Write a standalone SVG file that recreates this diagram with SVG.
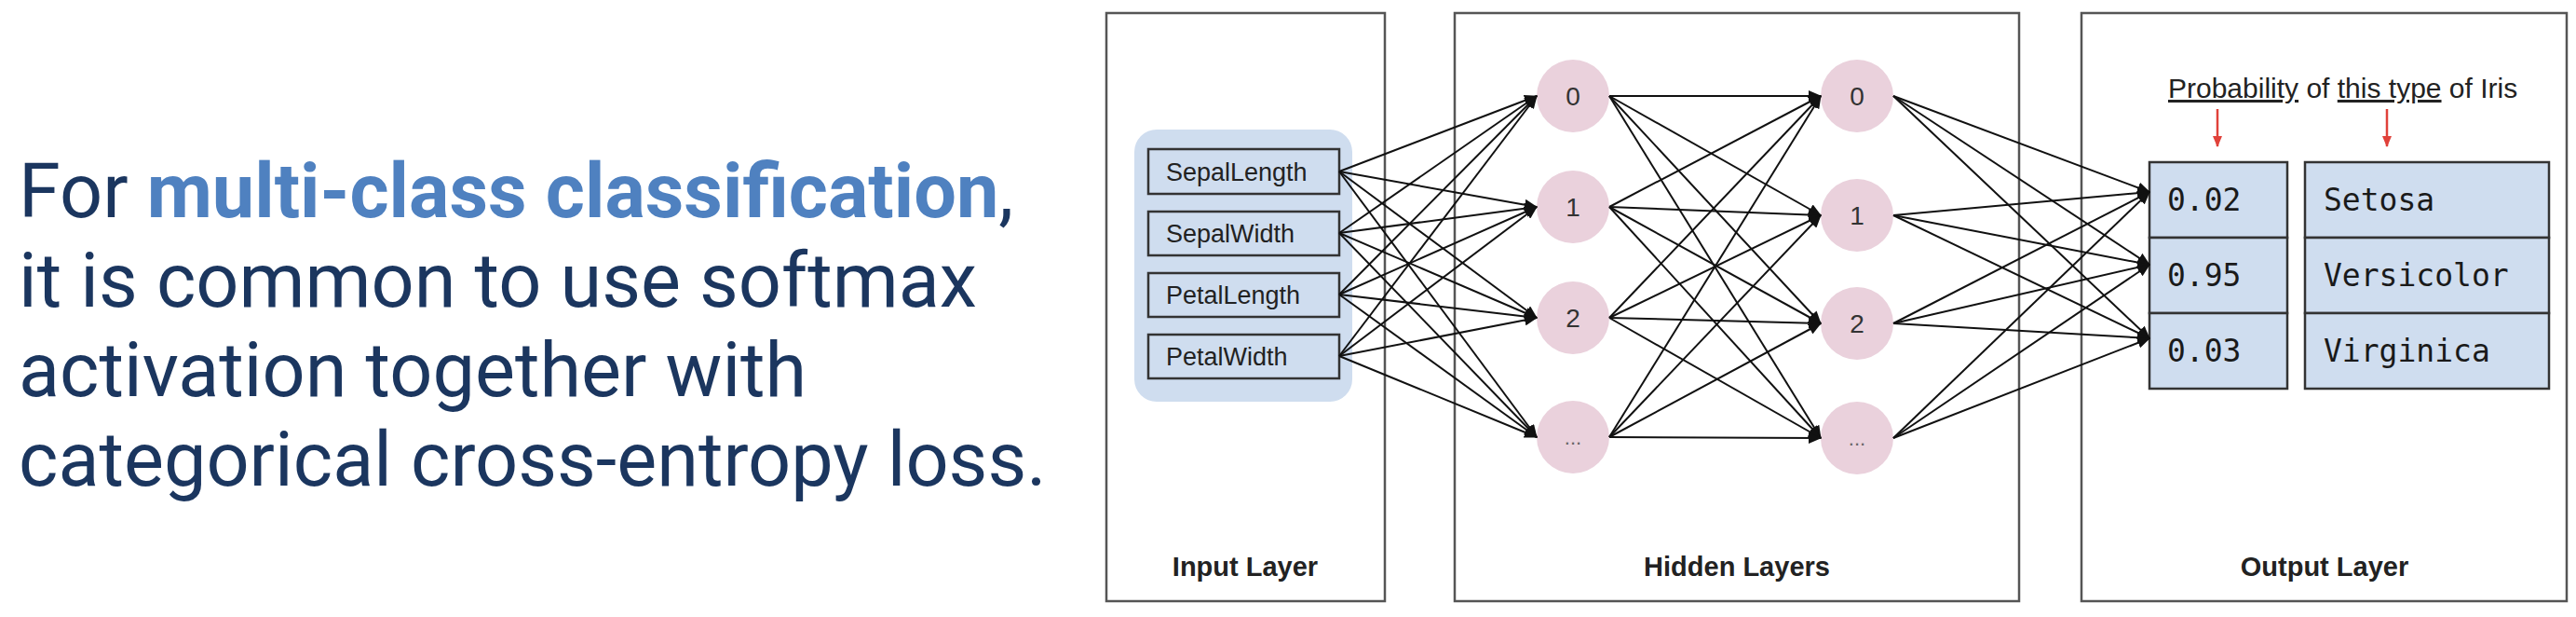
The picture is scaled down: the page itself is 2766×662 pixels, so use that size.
<svg xmlns="http://www.w3.org/2000/svg" width="2766" height="662" viewBox="0 0 2766 662">
<style>
.lead{font-family:Roboto,"Liberation Sans",sans-serif;font-size:81px;fill:#1b365f}
.hl{fill:#4f81c0;font-weight:bold}
.layer{fill:#fff;stroke:#555;stroke-width:2.5}
.lname{font-family:"Liberation Sans",Arial,sans-serif;font-size:29px;font-weight:bold;fill:#222;text-anchor:middle}
.feat{fill:#cfddef;stroke:#333;stroke-width:2.5}
.ftxt{font-family:"Liberation Sans",Arial,sans-serif;font-size:27px;fill:#222}
.neuron{fill:#ead1dc}
.ntxt{font-family:"Liberation Sans",Arial,sans-serif;font-size:28px;fill:#333;text-anchor:middle}
.dots{font-family:"Liberation Sans",Arial,sans-serif;font-size:22px;fill:#666;text-anchor:middle}
.cell{fill:#cfddef;stroke:#333;stroke-width:2.5}
.mono{font-family:"DejaVu Sans Mono","Liberation Mono",monospace;font-size:33px;fill:#1a1a1a}
.prob{font-family:"Liberation Sans",Arial,sans-serif;font-size:30px;fill:#222}
.conn line{stroke:#111;stroke-width:2;marker-end:url(#ah)}
.red{stroke:#e0413a;stroke-width:2.5;marker-end:url(#rh)}
</style>
<defs>
<marker id="ah" markerUnits="userSpaceOnUse" markerWidth="14" markerHeight="12" refX="13" refY="6" orient="auto">
<path d="M0,0 L14,6 L0,12 z" fill="#111"/>
</marker>
<marker id="rh" markerUnits="userSpaceOnUse" markerWidth="12" markerHeight="10" refX="11" refY="5" orient="auto">
<path d="M0,0 L12,5 L0,10 z" fill="#e0413a"/>
</marker>
</defs>

<g id="caption">
<text class="lead" x="20" y="233">For <tspan class="hl">multi-class classification</tspan>,</text>
<text class="lead" x="20" y="329">it is common to use softmax</text>
<text class="lead" x="20" y="425">activation together with</text>
<text class="lead" x="20" y="521">categorical cross-entropy loss.</text>
</g>

<g id="input-layer">
<rect class="layer" x="1188" y="14" width="299" height="631"/>
<rect x="1218" y="139" width="234" height="292" rx="24" fill="#cfddef"/>
<text class="lname" x="1337" y="618">Input Layer</text>
</g>
<g id="hidden-layers">
<rect class="layer" x="1562" y="14" width="606" height="631"/>
<text class="lname" x="1865" y="618">Hidden Layers</text>
</g>
<g id="output-layer">
<rect class="layer" x="2235" y="14" width="521" height="631"/>
<text class="lname" x="2496" y="618">Output Layer</text>
</g>

<g id="in-sepallength"><rect class="feat" x="1233" y="160" width="205" height="48"/><text class="ftxt" x="1252" y="194">SepalLength</text></g>
<g id="in-sepalwidth"><rect class="feat" x="1233" y="227" width="205" height="47"/><text class="ftxt" x="1252" y="260">SepalWidth</text></g>
<g id="in-petallength"><rect class="feat" x="1233" y="293" width="205" height="47"/><text class="ftxt" x="1252" y="326">PetalLength</text></g>
<g id="in-petalwidth"><rect class="feat" x="1233" y="359" width="205" height="47"/><text class="ftxt" x="1252" y="392">PetalWidth</text></g>

<g id="h1-0"><circle class="neuron" cx="1689" cy="103" r="39"/><text class="ntxt" x="1689" y="113">0</text></g>
<g id="h1-1"><circle class="neuron" cx="1689" cy="222" r="39"/><text class="ntxt" x="1689" y="232">1</text></g>
<g id="h1-2"><circle class="neuron" cx="1689" cy="341" r="39"/><text class="ntxt" x="1689" y="351">2</text></g>
<g id="h1-3"><circle class="neuron" cx="1689" cy="469" r="39"/><text class="dots" x="1689" y="477">...</text></g>

<g id="h2-0"><circle class="neuron" cx="1994" cy="103" r="39"/><text class="ntxt" x="1994" y="113">0</text></g>
<g id="h2-1"><circle class="neuron" cx="1994" cy="231" r="39"/><text class="ntxt" x="1994" y="241">1</text></g>
<g id="h2-2"><circle class="neuron" cx="1994" cy="347" r="39"/><text class="ntxt" x="1994" y="357">2</text></g>
<g id="h2-3"><circle class="neuron" cx="1994" cy="470" r="39"/><text class="dots" x="1994" y="478">...</text></g>

<g id="prob-header">
<text class="prob" x="2328" y="105"><tspan text-decoration="underline">Probability</tspan> of <tspan text-decoration="underline">this type</tspan> of Iris</text>
<line class="red" x1="2381" y1="117" x2="2381" y2="157"/>
<line class="red" x1="2563" y1="117" x2="2563" y2="157"/>
</g>

<g id="out-probabilities">
<rect class="cell" x="2308" y="174" width="148" height="81"/>
<rect class="cell" x="2308" y="255" width="148" height="81"/>
<rect class="cell" x="2308" y="336" width="148" height="81"/>
<text class="mono" x="2327" y="226">0.02</text>
<text class="mono" x="2327" y="307">0.95</text>
<text class="mono" x="2327" y="388">0.03</text>
</g>
<g id="out-classes">
<rect class="cell" x="2475" y="174" width="262" height="81"/>
<rect class="cell" x="2475" y="255" width="262" height="81"/>
<rect class="cell" x="2475" y="336" width="262" height="81"/>
<text class="mono" x="2495" y="226">Setosa</text>
<text class="mono" x="2495" y="307">Versicolor</text>
<text class="mono" x="2495" y="388">Virginica</text>
</g>

<g id="connectors" class="conn">
<line x1="1438" y1="184" x2="1650" y2="103"/><line x1="1438" y1="184" x2="1650" y2="222"/><line x1="1438" y1="184" x2="1650" y2="341"/><line x1="1438" y1="184" x2="1650" y2="469"/>
<line x1="1438" y1="250" x2="1650" y2="103"/><line x1="1438" y1="250" x2="1650" y2="222"/><line x1="1438" y1="250" x2="1650" y2="341"/><line x1="1438" y1="250" x2="1650" y2="469"/>
<line x1="1438" y1="316" x2="1650" y2="103"/><line x1="1438" y1="316" x2="1650" y2="222"/><line x1="1438" y1="316" x2="1650" y2="341"/><line x1="1438" y1="316" x2="1650" y2="469"/>
<line x1="1438" y1="382" x2="1650" y2="103"/><line x1="1438" y1="382" x2="1650" y2="222"/><line x1="1438" y1="382" x2="1650" y2="341"/><line x1="1438" y1="382" x2="1650" y2="469"/>

<line x1="1728" y1="103" x2="1955" y2="103"/><line x1="1728" y1="103" x2="1955" y2="231"/><line x1="1728" y1="103" x2="1955" y2="347"/><line x1="1728" y1="103" x2="1955" y2="470"/>
<line x1="1728" y1="222" x2="1955" y2="103"/><line x1="1728" y1="222" x2="1955" y2="231"/><line x1="1728" y1="222" x2="1955" y2="347"/><line x1="1728" y1="222" x2="1955" y2="470"/>
<line x1="1728" y1="341" x2="1955" y2="103"/><line x1="1728" y1="341" x2="1955" y2="231"/><line x1="1728" y1="341" x2="1955" y2="347"/><line x1="1728" y1="341" x2="1955" y2="470"/>
<line x1="1728" y1="469" x2="1955" y2="103"/><line x1="1728" y1="469" x2="1955" y2="231"/><line x1="1728" y1="469" x2="1955" y2="347"/><line x1="1728" y1="469" x2="1955" y2="470"/>

<line x1="2033" y1="103" x2="2308" y2="206"/><line x1="2033" y1="103" x2="2308" y2="284"/><line x1="2033" y1="103" x2="2308" y2="363"/>
<line x1="2033" y1="231" x2="2308" y2="206"/><line x1="2033" y1="231" x2="2308" y2="284"/><line x1="2033" y1="231" x2="2308" y2="363"/>
<line x1="2033" y1="347" x2="2308" y2="206"/><line x1="2033" y1="347" x2="2308" y2="284"/><line x1="2033" y1="347" x2="2308" y2="363"/>
<line x1="2033" y1="470" x2="2308" y2="206"/><line x1="2033" y1="470" x2="2308" y2="284"/><line x1="2033" y1="470" x2="2308" y2="363"/>
</g>
</svg>
